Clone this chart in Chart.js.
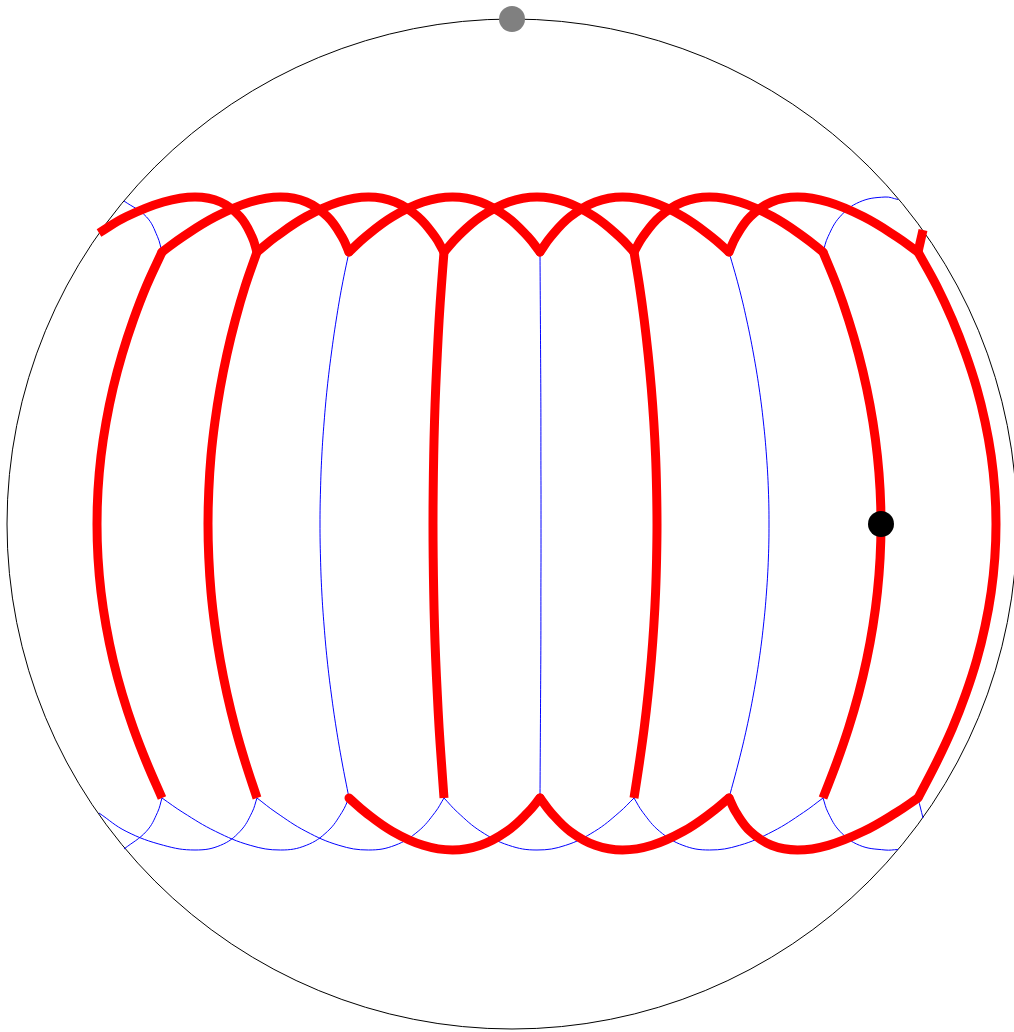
<!DOCTYPE html>
<html lang="en">
<head>
    <meta charset="UTF-8">
    <title>Esfera</title>
    <script src="https://cdn.jsdelivr.net/npm/chart.js@4.4.1/dist/chart.umd.min.js"></script>
    <style>
      body { margin: 0; background: #fff; }
      canvas { display: block; }
    </style>
</head>
<body>
 <canvas id="myChart" width="1014" height="1032"></canvas>
 <script>
    // meridianos: x en cada nivel y, del vertice (mx0) al ecuador (mx8)
    const meridianTopY = [252, 286, 320, 354, 388, 422, 456, 490, 524];
    const meridianBotY = [798, 762, 728, 694, 660, 626, 592, 558, 524];
    const mx0 = [162, 257, 349, 444, 540, 634, 729, 823, 918];
    const mx1 = [146.4, 245.2, 342, 441.4, 540.2, 639.5, 738.6, 836.9, 936.7];
    const mx2 = [133.3, 235.3, 336.2, 439.1, 540.4, 644.2, 746.7, 848.6, 952.5];
    const mx3 = [122.2, 227, 331.3, 437.3, 540.6, 648.1, 753.5, 858.5, 965.7];
    const mx4 = [113.1, 220.2, 327.2, 435.7, 540.8, 651.3, 759.1, 866.6, 976.7];
    const mx5 = [106.1, 214.9, 324.1, 434.5, 540.9, 653.8, 763.4, 872.9, 985.1];
    const mx6 = [101, 211, 321.8, 433.7, 540.9, 655.6, 766.5, 877.4, 991.2];
    const mx7 = [98, 208.8, 320.5, 433.2, 541, 656.6, 768.4, 880.1, 994.8];
    const mx8 = [97, 208, 320, 433, 541, 657, 769, 881, 996];
    const meridianRed = [1, 1, 0, 1, 0, 1, 0, 1, 1];

    // arcos: mismas x arriba y abajo, perfil en y
    const arcTopY = [252, 236.7, 216.8, 202, 197, 202, 216.8, 236.7, 252];
    const arcBotY = [798, 812.4, 831.3, 845.3, 850, 845.3, 831.3, 812.4, 798];
    const arcX = [
      [162, 182.9, 215.4, 250.2, 280.5, 306.3, 327.6, 341.9, 349],
      [257, 276, 305.9, 338.9, 368.5, 395, 418.1, 435, 444],
      [349, 365.5, 392.3, 423.2, 452.5, 480.5, 506.9, 527.9, 540],
      [444, 457.7, 480.7, 508.7, 537, 565.7, 594.7, 619.2, 634],
      [540, 550.9, 570.1, 595.3, 622.5, 652, 683.5, 711.5, 729],
      [634, 642.9, 659.6, 682.9, 709.5, 739.6, 773, 803.5, 823],
      [729, 736, 750.2, 771.5, 797.5, 828.2, 863.6, 896.6, 918]
    ];
    const arcTopRed = [1, 1, 1, 1, 1, 1, 1];
    const arcBotRed = [0, 0, 1, 0, 1, 0, 1];

    // arcos cortados por el borde
    const leftArcX = [99, 126.1, 163.5, 195, 220.5, 240.1, 252, 257];
    const leftArcTopY = [233, 216.8, 202, 197, 202, 216.8, 236.7, 252];
    const leftArcBotY = [813, 831.3, 845.3, 850, 845.3, 831.3, 812.4, 798];
    const edgeLeftX = [124, 146.4, 157.5, 162];
    const edgeLeftTopY = [201, 216.8, 236.7, 252];
    const edgeLeftBotY = [849, 831.3, 812.4, 798];
    const edgeRightX = [823, 828, 839.9, 859.5, 885, 898];
    const edgeRightTopY = [252, 236.7, 216.8, 202, 197, 199.5];
    const edgeRightBotY = [798, 812.4, 831.3, 845.3, 850, 849.5];
    const tickX = [918, 923];
    const tickTopY = [252, 230];
    const tickBotY = [798, 818];

    const sphere = {x: 512, y: 524, r: 505};
    const poleDot = {x: 512, y: 19};
    const blackDot = {x: 881, y: 524};

    const RED = '#ff0000', BLUE = '#0000ff';
    const datasets = [];

    function addLine(xs, ys, red, cap) {
      datasets.push({
        data: xs.map((x, i) => ({x: x, y: ys[i]})),
        showLine: true,
        borderColor: red ? RED : BLUE,
        borderWidth: red ? 9 : 1,
        borderCapStyle: cap || 'butt',
        borderJoinStyle: 'round',
        tension: 0.4,
        pointRadius: 0,
        fill: false,
        clip: false,
        order: red ? 1 : 2
      });
    }

    const levels = [mx0, mx1, mx2, mx3, mx4, mx5, mx6, mx7, mx8];
    mx0.forEach((x, i) => {
      const down = levels.map(l => l[i]);
      const xs = down.concat(down.slice(0, -1).reverse());
      const ys = meridianTopY.concat(meridianBotY.slice(0, -1).reverse());
      addLine(xs, ys, meridianRed[i], 'butt');
    });
    arcX.forEach((xs, i) => {
      addLine(xs, arcTopY, arcTopRed[i], 'round');
      addLine(xs, arcBotY, arcBotRed[i], 'round');
    });
    addLine(leftArcX, leftArcTopY, 1, 'butt');
    addLine(leftArcX, leftArcBotY, 0);
    addLine(edgeLeftX, edgeLeftTopY, 0);
    addLine(edgeLeftX, edgeLeftBotY, 0);
    addLine(edgeRightX, edgeRightTopY, 0);
    addLine(edgeRightX, edgeRightBotY, 0);
    addLine(tickX, tickTopY, 1, 'butt');
    addLine(tickX, tickBotY, 0);

    datasets.push({
      data: [{x: sphere.x, y: sphere.y}],
      pointRadius: sphere.r,
      pointBorderColor: '#000',
      pointBorderWidth: 1,
      pointBackgroundColor: 'rgba(0,0,0,0)',
      clip: false,
      order: 3
    });
    datasets.push({
      data: [poleDot],
      pointRadius: 13,
      pointBorderWidth: 0,
      pointBackgroundColor: '#808080',
      clip: false,
      order: 0
    });
    datasets.push({
      data: [blackDot],
      pointRadius: 13,
      pointBorderWidth: 0,
      pointBackgroundColor: '#000',
      clip: false,
      order: 0
    });

    const ctx = document.getElementById('myChart').getContext('2d');
    new Chart(ctx, {
      type: 'scatter',
      data: { datasets },
      options: {
        responsive: false,
        devicePixelRatio: 1,
        animation: false,
        layout: { padding: 0, autoPadding: false },
        plugins: { legend: { display: false }, tooltip: { enabled: false } },
        events: [],
        scales: {
          x: { type: 'linear', min: 0, max: 1014, display: false },
          y: { type: 'linear', min: 0, max: 1032, reverse: true, display: false }
        }
      }
    });
 </script>
</body>
</html>
